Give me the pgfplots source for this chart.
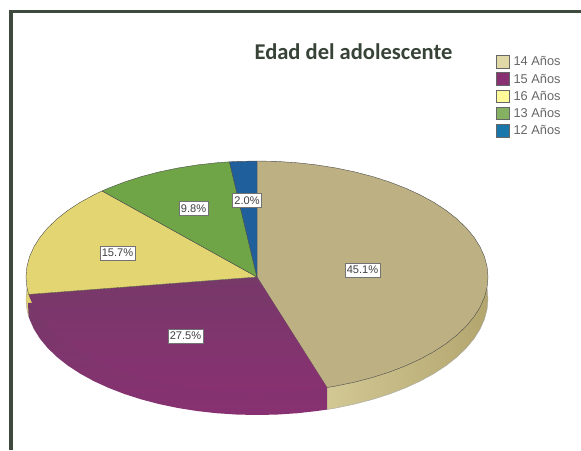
\documentclass[border=0pt]{standalone}
\usepackage{fontspec}
\setmainfont{Liberation Sans}
\newfontfamily\titlefont{Carlito}
\usepackage{pgfplots}
\pgfplotsset{compat=1.18}
\usepgfplotslibrary{polar}

% one reference pixel = 0.75pt
\definecolor{frame}{HTML}{3E4A3E}
\definecolor{tan14}{HTML}{BDB183}
\definecolor{pur15}{HTML}{763968}
\definecolor{pur15low}{HTML}{883172}
\definecolor{yel16}{HTML}{E3D672}
\definecolor{gre13}{HTML}{6FA546}
\definecolor{blu12}{HTML}{1F5F9C}
\definecolor{rimlight}{HTML}{E0D8A6}
\definecolor{rimdark}{HTML}{B3A56E}

\pgfplotsset{
  swatch/.style={
    legend image code/.code={
      \draw[##1,draw=black!60,line width=0.3pt] (0pt,-4.7pt) rectangle (9.6pt,4.7pt);
    }
  }
}

\begin{document}
\begin{tikzpicture}
\path[use as bounding box] (0,0) rectangle (435.75pt,337.5pt);

% pie: angles in degrees, shares 45.1, 27.5, 15.7, 9.8, 2.0 clockwise from the top
\begin{axis}[
    at={(19.5pt,42.75pt)},
    anchor=south west,
    scale only axis,
    width=346.5pt,
    height=174pt,
    xmin=-1, xmax=1,
    ymin=-1, ymax=1,
    hide axis,
    clip=false,
    data cs=polar,
]
% rim
\addplot[draw=black!35,line width=0.3pt,fill=yel16,yshift=-16.5pt] coordinates {
  (0,0) (-171.36,1) (-175,1) (-180,1) (-185,1) (-190,1) (-195,1)
} -- cycle;
\addplot[draw=black!35,line width=0.3pt,left color=rimlight,right color=rimdark,yshift=-16.5pt] coordinates {
  (0,0) (-72.36,1) (-70,1) (-65,1) (-60,1) (-55,1) (-50,1) (-45,1) (-40,1) (-35,1) (-30,1)
  (-25,1) (-20,1) (-15,1) (-10,1) (-5,1) (0,1) (5,1) (10,1)
} -- cycle;
\addplot[draw=none,top color=pur15,bottom color=pur15low,yshift=-16.5pt] coordinates {
  (0,0) (-68.4,0.825) (-72.36,1) (-75,1) (-80,1) (-85,1) (-90,1) (-95,1) (-100,1) (-105,1) (-110,1)
  (-115,1) (-120,1) (-125,1) (-130,1) (-135,1) (-140,1) (-145,1) (-150,1) (-155,1)
  (-160,1) (-165,1) (-170,1) (-171.36,1) (-178.03,0.992)
} -- cycle;
% top face
\addplot[draw=black!70,line width=0.3pt,fill=tan14] coordinates {
  (0,0) (90,1) (85,1) (80,1) (75,1) (70,1) (65,1) (60,1) (55,1) (50,1) (45,1) (40,1)
  (35,1) (30,1) (25,1) (20,1) (15,1) (10,1) (5,1) (0,1) (-5,1) (-10,1) (-15,1) (-20,1)
  (-25,1) (-30,1) (-35,1) (-40,1) (-45,1) (-50,1) (-55,1) (-60,1) (-65,1) (-70,1) (-72.36,1)
} -- cycle;
\addplot[draw=none,top color=pur15,bottom color=pur15low] coordinates {
  (0,0) (-72.36,1) (-75,1) (-80,1) (-85,1) (-90,1) (-95,1) (-100,1) (-105,1) (-110,1)
  (-115,1) (-120,1) (-125,1) (-130,1) (-135,1) (-140,1) (-145,1) (-150,1) (-155,1)
  (-160,1) (-165,1) (-170,1) (-171.36,1)
} -- cycle;
\addplot[draw=black!70,line width=0.3pt,fill=yel16] coordinates {
  (0,0) (-171.36,1) (-175,1) (-180,1) (-185,1) (-190,1) (-195,1) (-200,1) (-205,1)
  (-210,1) (-215,1) (-220,1) (-225,1) (-227.88,1)
} -- cycle;
\addplot[draw=black!70,line width=0.3pt,fill=gre13] coordinates {
  (0,0) (-227.88,1) (-230,1) (-235,1) (-240,1) (-245,1) (-250,1) (-255,1) (-260,1) (-263.16,1)
} -- cycle;
\addplot[draw=black!70,line width=0.3pt,fill=blu12] coordinates {
  (0,0) (-263.16,1) (-265,1) (-270,1)
} -- cycle;
\end{axis}

% frame, title, legend and labels in reference pixels
\begin{axis}[
    at={(0pt,0pt)},
    anchor=south west,
    scale only axis,
    width=435.75pt,
    height=337.5pt,
    xmin=0, xmax=581,
    ymin=0, ymax=450,
    y dir=reverse,
    hide axis,
    legend cell align=left,
    legend style={
      at={(0.8535,0.8780)},
      anchor=north west,
      draw=none,
      fill=none,
      font=\fontsize{9.6pt}{10pt}\selectfont\color{black!60},
      inner sep=0pt,
      row sep=3.2pt,
      nodes={inner sep=0.8pt,text height=6.5pt,text depth=0pt},
      /tikz/every odd column/.style={column sep=2.4pt},
    },
]
\addplot[frame,line width=2.4pt,line join=miter,forget plot] coordinates {(11,450) (11,11.5) (581,11.5)};

\addlegendimage{swatch,fill=rimlight}
\addlegendentry{14 Años}
\addlegendimage{swatch,fill=pur15low}
\addlegendentry{15 Años}
\addlegendimage{swatch,fill=yellow!40!white}
\addlegendentry{16 Años}
\addlegendimage{swatch,fill=gre13!85!white}
\addlegendentry{13 Años}
\addlegendimage{swatch,fill=blu12!85!cyan}
\addlegendentry{12 Años}

\node[font=\titlefont\bfseries\fontsize{16.9pt}{19pt}\selectfont,text=frame!90!black] at (axis cs:353.5,51.5) {Edad del adolescente};

\tikzset{pct/.style={draw=black!55,fill=white,line width=0.4pt,text=black!75,
  font=\fontsize{8.3pt}{9pt}\selectfont,inner xsep=1.5pt,inner ysep=2.4pt}}
\node[pct] at (axis cs:362.5,270) {45.1\%};
\node[pct] at (axis cs:185.5,336) {27.5\%};
\node[pct] at (axis cs:117.5,253) {15.7\%};
\node[pct] at (axis cs:193.5,208.5) {9.8\%};
\node[pct] at (axis cs:247,200.5) {2.0\%};
\end{axis}
\end{tikzpicture}
\end{document}
